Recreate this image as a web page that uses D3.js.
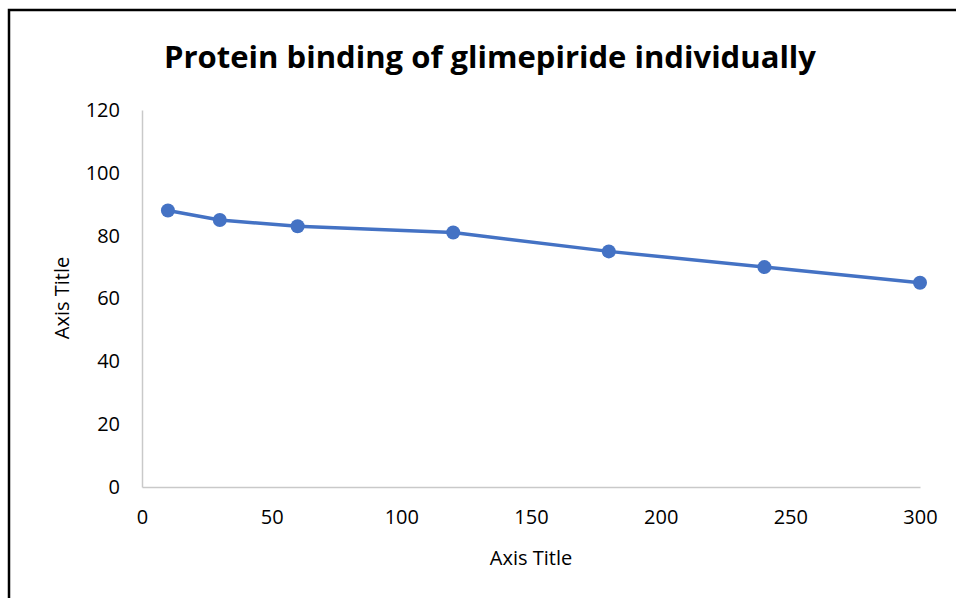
<!DOCTYPE html>
<html>
<head>
<meta charset="utf-8">
<script src="https://cdn.jsdelivr.net/npm/d3@7"></script>
<style>
  html, body { margin: 0; padding: 0; background: #fff; }
  svg { display: block; }
  text { font-family: "Open Sans", "Liberation Sans", sans-serif; fill: #000; }
</style>
</head>
<body>
<svg id="chart" width="956" height="598"></svg>
<script>
// Protein binding (%) of glimepiride over time
const timePoints = [10, 30, 60, 120, 180, 240, 300];
const bindingValues = [88, 85, 83, 81, 75, 70, 65];
const xTicks = [0, 50, 100, 150, 200, 250, 300];
const yTicks = [0, 20, 40, 60, 80, 100, 120];
const titleText = "Protein binding of glimepiride individually";
const xAxisTitle = "Axis Title";
const yAxisTitle = "Axis Title";

const svg = d3.select("#chart");
const W = 956, H = 598;
const plot = { left: 142, right: 920, top: 110, bottom: 487 };

// outer chart frame
svg.append("rect")
  .attr("x", 9).attr("y", 10)
  .attr("width", W + 10).attr("height", H + 10)
  .attr("fill", "none").attr("stroke", "#000").attr("stroke-width", 2.5);

const x = d3.scaleLinear().domain([0, 300]).range([plot.left, plot.right]);
const y = d3.scaleLinear().domain([0, 120]).range([plot.bottom, plot.top]);

// axis lines
const xAxis = svg.append("g")
  .attr("transform", `translate(0,${plot.bottom})`)
  .call(d3.axisBottom(x).tickValues(xTicks).tickSize(0).tickPadding(23));
xAxis.select(".domain").attr("stroke", "#c9c9c9").attr("stroke-width", 1.5);
xAxis.selectAll("text").style("font-size", "20px").style("font-family", "'Open Sans', sans-serif");

const yAxis = svg.append("g")
  .attr("transform", `translate(${plot.left},0)`)
  .call(d3.axisLeft(y).tickValues(yTicks).tickSize(0).tickPadding(22));
yAxis.select(".domain").attr("stroke", "#c9c9c9").attr("stroke-width", 1.5);
yAxis.selectAll("text").style("font-size", "20px").style("font-family", "'Open Sans', sans-serif");

// data line
const pts = timePoints.map((t, i) => [t, bindingValues[i]]);
svg.append("path")
  .datum(pts)
  .attr("fill", "none")
  .attr("stroke", "#4472C4")
  .attr("stroke-width", 3.5)
  .attr("stroke-linejoin", "round")
  .attr("d", d3.line().x(d => x(d[0])).y(d => y(d[1])));

svg.append("g").selectAll("circle")
  .data(pts).join("circle")
  .attr("cx", d => x(d[0])).attr("cy", d => y(d[1]))
  .attr("r", 7)
  .attr("fill", "#4472C4");

// title
svg.append("text")
  .attr("x", 490).attr("y", 68)
  .attr("text-anchor", "middle")
  .style("font-size", "30px").style("font-weight", "bold")
  .attr("textLength", 652).attr("lengthAdjust", "spacingAndGlyphs")
  .text(titleText);

// axis titles
svg.append("text")
  .attr("x", 531).attr("y", 565)
  .attr("text-anchor", "middle")
  .style("font-size", "20px")
  .text(xAxisTitle);

svg.append("text")
  .attr("transform", "translate(69,298) rotate(-90)")
  .attr("text-anchor", "middle")
  .style("font-size", "20px")
  .text(yAxisTitle);
</script>
</body>
</html>
